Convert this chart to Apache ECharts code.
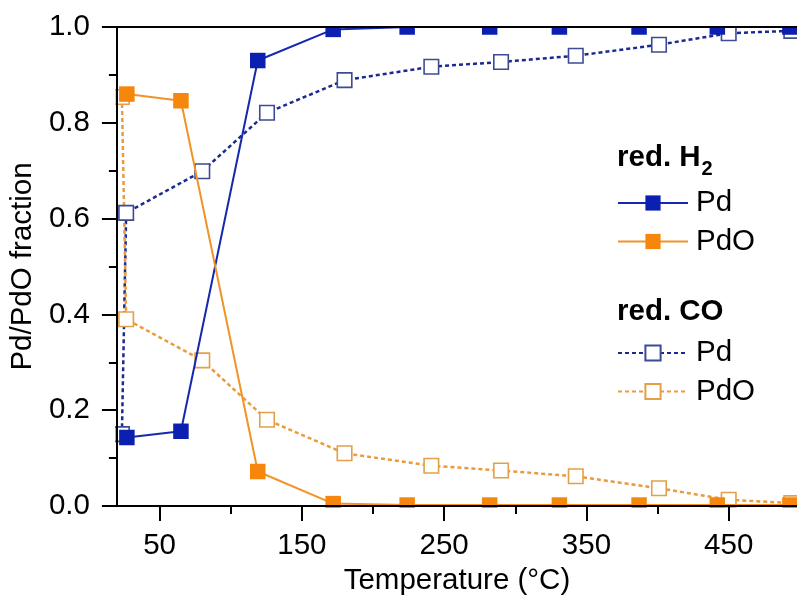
<!DOCTYPE html>
<html><head><meta charset="utf-8">
<script src="https://cdn.jsdelivr.net/npm/echarts@6/dist/echarts.min.js"></script>
<style>html,body{margin:0;padding:0;background:#fff}#c{width:797px;height:601px}</style>
</head><body><div id="c"></div>
<script>
// ---- data ----
const h2Temp = [27, 65, 119, 172, 224, 282, 331, 387, 442, 493];
const h2Pd   = [0.143, 0.156, 0.930, 0.995, 1.0, 1.0, 1.0, 1.0, 1.0, 1.0];
const h2PdO  = [0.860, 0.846, 0.072, 0.005, 0.002, 0.002, 0.002, 0.002, 0.002, 0.002];
const coTemp = [23.5, 26.5, 80, 125.5, 180, 241, 290, 342.5, 401, 450, 494];
const coPd   = [0.150, 0.612, 0.699, 0.821, 0.889, 0.917, 0.927, 0.940, 0.963, 0.987, 0.992];
const coPdO  = [0.854, 0.390, 0.304, 0.180, 0.110, 0.084, 0.074, 0.062, 0.037, 0.013, 0.006];
const xMajorTicks = [50, 150, 250, 350, 450];
const xMinorTicks = [100, 200, 300, 400];

const pairs = (xs, ys) => xs.map((x, i) => [x, ys[i]]);
const FONT = '"Liberation Sans", Arial, sans-serif';
const FS = 29.5;
const BLUE = '#0b1fb0', ORANGE = '#f7860c';

const chart = echarts.init(document.getElementById('c'), null, {renderer: 'canvas'});
const axisLineStyle = {color: '#000', width: 2};

chart.setOption({
  animation: false,
  backgroundColor: '#fff',
  grid: {left: 116, right: 0, top: 27, bottom: 94},
  title: [
    {text: 'red. H{sub|2}', left: 617, top: 142, padding: 0,
     textStyle: {fontFamily: FONT, fontSize: FS, fontWeight: 'bold', color: '#000', lineHeight: 31,
       rich: {sub: {fontFamily: FONT, fontSize: 20, fontWeight: 'bold', color: '#000', lineHeight: 20, padding: [17, 0, 0, 1], verticalAlign: 'top'}}}},
    {text: 'red. CO', left: 617, top: 297, padding: 0,
     textStyle: {fontFamily: FONT, fontSize: FS, fontWeight: 'bold', color: '#000'}}
  ],
  legend: [
    {data: ['H2 Pd', 'H2 PdO'], orient: 'vertical', left: 617, top: 188, padding: 0,
     itemWidth: 70, itemHeight: 19, itemGap: 8.5,
     formatter: n => n.split(' ')[1],
     textStyle: {fontFamily: FONT, fontSize: FS, color: '#000', padding: [0, 0, 0, 3]}},
    {data: ['CO Pd', 'CO PdO'], orient: 'vertical', left: 617, top: 338, padding: 0,
     itemWidth: 70, itemHeight: 19, itemGap: 8.5,
     formatter: n => n.split(' ')[1],
     textStyle: {fontFamily: FONT, fontSize: FS, color: '#000', padding: [0, 0, 0, 3]}}
  ],
  xAxis: [
    {type: 'value', min: 20, max: 498, position: 'bottom', z: 10,
     splitLine: {show: false},
     axisLine: {show: true, lineStyle: axisLineStyle},
     axisTick: {show: true, length: 15, lineStyle: axisLineStyle, customValues: xMajorTicks},
     axisLabel: {fontFamily: FONT, fontSize: FS, color: '#000', margin: 25, customValues: xMajorTicks},
     name: 'Temperature (°C)', nameLocation: 'middle', nameGap: 60,
     nameTextStyle: {fontFamily: FONT, fontSize: FS, color: '#000'}},
    {type: 'value', min: 20, max: 498, position: 'bottom', z: 10,
     splitLine: {show: false},
     axisLine: {show: false},
     axisTick: {show: true, length: 8, lineStyle: axisLineStyle, customValues: xMinorTicks},
     axisLabel: {show: false}},
    {type: 'value', min: 20, max: 498, position: 'top', z: 10,
     splitLine: {show: false},
     axisLine: {show: true, lineStyle: axisLineStyle},
     axisTick: {show: false}, axisLabel: {show: false}}
  ],
  yAxis: {
    type: 'value', min: 0, max: 1, interval: 0.2, z: 10,
    splitLine: {show: false},
    axisLine: {show: true, lineStyle: axisLineStyle},
    axisTick: {show: true, length: 15, lineStyle: axisLineStyle},
    minorTick: {show: true, splitNumber: 2, length: 8, lineStyle: axisLineStyle},
    axisLabel: {fontFamily: FONT, fontSize: FS, color: '#000', margin: 27, formatter: v => v.toFixed(1)},
    name: 'Pd/PdO fraction', nameLocation: 'middle', nameGap: 77,
    nameTextStyle: {fontFamily: FONT, fontSize: FS, color: '#000'}
  },
  graphic: [
    {type: 'rect', z: 5, silent: true, shape: {x: 0, y: 508, width: 797, height: 93}, style: {fill: '#fff'}},
    {type: 'rect', z: 5, silent: true, shape: {x: 0, y: 0, width: 797, height: 26}, style: {fill: '#fff'}},
    {type: 'rect', z: 5, silent: true, shape: {x: 0, y: 0, width: 115, height: 601}, style: {fill: '#fff'}}
  ],
  series: [
    {name: 'CO Pd', type: 'line', data: pairs(coTemp, coPd), z: 2,
     symbol: 'rect', symbolSize: 14.5,
     lineStyle: {color: '#1a2a8e', width: 2.5, type: [4, 3]},
     itemStyle: {color: '#fff', borderColor: '#3d4b94', borderWidth: 1.6}},
    {name: 'CO PdO', type: 'line', data: pairs(coTemp, coPdO), z: 2,
     symbol: 'rect', symbolSize: 14.5,
     lineStyle: {color: '#eb9a3c', width: 2.5, type: [4, 3]},
     itemStyle: {color: '#fff', borderColor: '#e3a049', borderWidth: 1.6}},
    {name: 'H2 Pd', type: 'line', data: pairs(h2Temp, h2Pd), z: 3,
     symbol: 'rect', symbolSize: 15.5,
     lineStyle: {color: '#1528b0', width: 2},
     itemStyle: {color: BLUE}},
    {name: 'H2 PdO', type: 'line', data: pairs(h2Temp, h2PdO), z: 3,
     symbol: 'rect', symbolSize: 15.5,
     lineStyle: {color: '#f29328', width: 2},
     itemStyle: {color: ORANGE}}
  ]
});
</script></body></html>
